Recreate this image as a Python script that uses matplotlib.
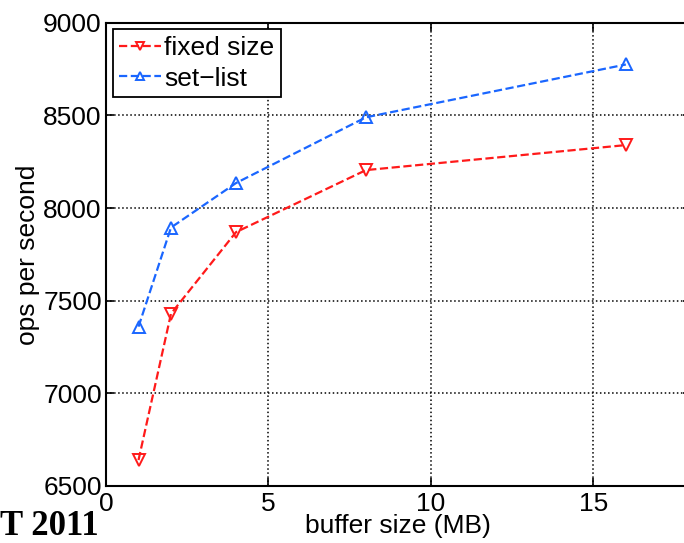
import numpy as np
import matplotlib
matplotlib.use("Agg")
import matplotlib.pyplot as plt

plt.rcParams['font.family'] = ['Liberation Sans', 'DejaVu Sans']

# buffer sizes (MB) and throughput
buffer_mb = [1, 2, 4, 8, 16]
fixed_size = [6640, 7430, 7870, 8205, 8340]
set_list = [7360, 7895, 8135, 8490, 8775]

fig = plt.figure(figsize=(6.84, 5.43), dpi=100)
ax = fig.add_axes([0.155, 0.105, 0.855, 0.853])

ax.plot(buffer_mb, fixed_size, '--v', color='#ff1a1a', mfc='none', mec='#ff1a1a',
        ms=9, lw=1.6, mew=1.4, label='fixed size')
ax.plot(buffer_mb, set_list, '--^', color='#1a66ff', mfc='none', mec='#1a66ff',
        ms=9, lw=1.6, mew=1.4, label='set\u2212list')

ax.set_xlim(0, 18)
ax.set_ylim(6500, 9000)
ax.set_xticks([0, 5, 10, 15])
ax.set_yticks([6500, 7000, 7500, 8000, 8500, 9000])
ax.grid(True, color='black', linestyle=':', linewidth=1.1)
ax.tick_params(direction='in', length=6, width=1.2, labelsize=19, top=True, right=True, pad=3)
ax.tick_params(axis='x', pad=4)
for s in ax.spines.values():
    s.set_linewidth(1.5)

ax.set_xlabel('buffer size (MB)', fontsize=19, labelpad=-1)
ax.set_ylabel('ops per second', fontsize=19, labelpad=2)

leg = ax.legend(loc='upper left', fontsize=19, handlelength=1.6, handletextpad=0.1,
                borderpad=0.25, labelspacing=0.25, borderaxespad=0.25, fancybox=False,
                framealpha=1, markerscale=0.7)
leg.get_frame().set_edgecolor('black')
leg.get_frame().set_linewidth(1.3)

fig.text(0.0, 0.0, 'T 2011', fontsize=25, fontweight='bold', family='Liberation Serif',
         va='bottom')

fig.savefig('out.png', dpi=100)
